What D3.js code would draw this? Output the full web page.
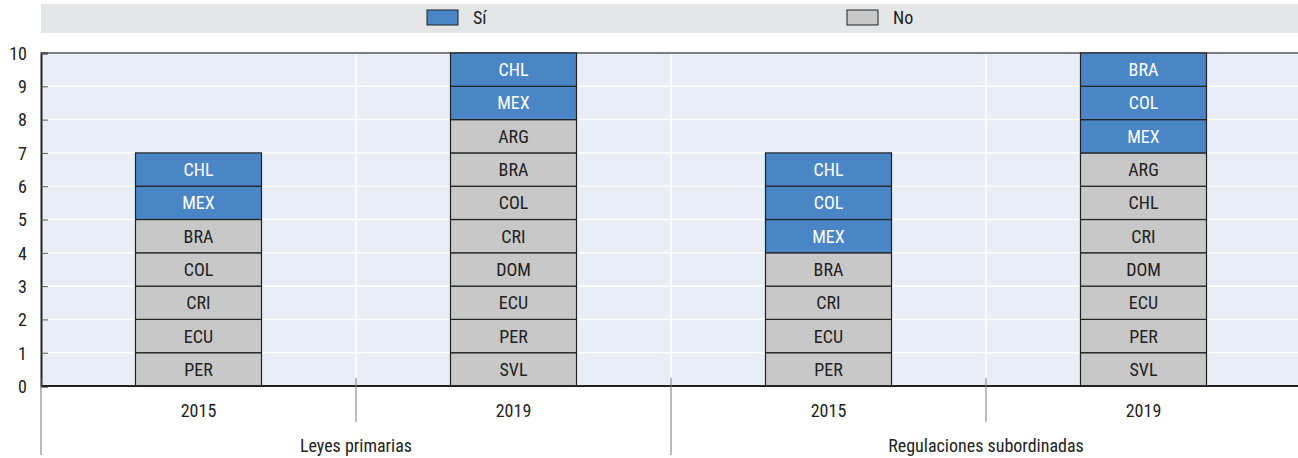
<!DOCTYPE html>
<html>
<head>
<meta charset="utf-8">
<script src="https://cdn.jsdelivr.net/npm/d3@7"></script>
<style>
  body { margin: 0; background: #fff; }
  svg text { font-family: "Liberation Sans Narrow", "Arial Narrow", "Roboto Condensed", sans-serif; font-size: 18px; fill: #222; }
</style>
</head>
<body>
<div id="chart"></div>
<script>
const W = 1298, H = 458;
const m = { left: 41, right: -3, top: 53, bottom: 72 };

const groups = ["Leyes primarias", "Regulaciones subordinadas"];
const years = ["2015", "2019"];
const columns = ["Leyes primarias|2015", "Leyes primarias|2019", "Regulaciones subordinadas|2015", "Regulaciones subordinadas|2019"];

// countries stacked bottom to top
const noLeyes2015 = ["PER", "ECU", "CRI", "COL", "BRA"];
const siLeyes2015 = ["MEX", "CHL"];
const noLeyes2019 = ["SVL", "PER", "ECU", "DOM", "CRI", "COL", "BRA", "ARG"];
const siLeyes2019 = ["MEX", "CHL"];
const noReg2015 = ["PER", "ECU", "CRI", "BRA"];
const siReg2015 = ["MEX", "COL", "CHL"];
const noReg2019 = ["SVL", "PER", "ECU", "DOM", "CRI", "CHL", "ARG"];
const siReg2019 = ["MEX", "COL", "BRA"];

const yTicks = [0, 1, 2, 3, 4, 5, 6, 7, 8, 9, 10];
const legendItems = ["Sí", "No"];
const color = d3.scaleOrdinal().domain(legendItems).range(["#4a86c6", "#c8c8c8"]);

const stacks = [
  [noLeyes2015, siLeyes2015],
  [noLeyes2019, siLeyes2019],
  [noReg2015, siReg2015],
  [noReg2019, siReg2019]
];

const cells = [];
stacks.forEach((s, i) => {
  let k = 0;
  s[0].forEach(c => { cells.push({ col: columns[i], name: c, type: "No", y0: k, y1: k + 1 }); k++; });
  s[1].forEach(c => { cells.push({ col: columns[i], name: c, type: "Sí", y0: k, y1: k + 1 }); k++; });
});

const svg = d3.select("#chart").append("svg").attr("width", W).attr("height", H);

const x = d3.scaleBand().domain(columns).range([m.left, W - m.right]);
const y = d3.scaleLinear().domain([0, 10]).range([H - m.bottom, m.top]);
const barW = x.bandwidth() * 0.4;

// legend band
svg.append("rect").attr("x", m.left).attr("y", 4).attr("width", W - m.left).attr("height", 29).attr("fill", "#e5e6e8");
const legendX = d3.scalePoint().domain(legendItems).range([427, 847]);
const lg = svg.selectAll(".legend").data(legendItems).enter().append("g")
  .attr("transform", d => "translate(" + legendX(d) + ",10)");
lg.append("rect").attr("width", 31).attr("height", 15).attr("fill", d => color(d)).attr("stroke", "#222").attr("stroke-width", 1);
lg.append("text").attr("x", 46).attr("y", 14).text(d => d);

// plot bg
svg.append("rect").attr("x", m.left).attr("y", y(10)).attr("width", W - m.left).attr("height", y(0) - y(10)).attr("fill", "#e9edf6");

// gridlines
svg.append("g").selectAll("line").data(yTicks.slice(1, -1)).enter().append("line")
  .attr("x1", m.left).attr("x2", W).attr("y1", d => y(d)).attr("y2", d => y(d))
  .attr("stroke", "#fff").attr("stroke-width", 1.5);
svg.append("g").selectAll("line").data(columns.slice(1)).enter().append("line")
  .attr("x1", d => x(d)).attr("x2", d => x(d)).attr("y1", y(10)).attr("y2", y(0))
  .attr("stroke", "#fff").attr("stroke-width", 1.5);

// top border
svg.append("line").attr("x1", m.left).attr("x2", W).attr("y1", y(10)).attr("y2", y(10)).attr("stroke", "#555").attr("stroke-width", 1.5);

// bars
const cell = svg.append("g").selectAll("g").data(cells).enter().append("g");
cell.append("rect")
  .attr("x", d => x(d.col) + (x.bandwidth() - barW) / 2)
  .attr("y", d => y(d.y1))
  .attr("width", barW)
  .attr("height", d => y(d.y0) - y(d.y1))
  .attr("fill", d => color(d.type))
  .attr("stroke", "#222").attr("stroke-width", 1.2);
cell.append("text")
  .attr("x", d => x(d.col) + x.bandwidth() / 2)
  .attr("y", d => (y(d.y0) + y(d.y1)) / 2 + 6.5)
  .attr("text-anchor", "middle")
  .style("fill", d => d.type === "Sí" ? "#fff" : "#222")
  .text(d => d.name);

// y axis
const yAxis = d3.axisLeft(y).tickValues(yTicks).tickSize(-7).tickPadding(14).tickFormat(d3.format("d"));
const ya = svg.append("g").attr("transform", "translate(" + m.left + ",0)").call(yAxis);
ya.select(".domain").attr("stroke", "#222").attr("stroke-width", 2);
ya.selectAll(".tick line").attr("stroke", "#555");
ya.selectAll(".tick text").attr("dy", "0.35em").style("font-size", "18px");

// x baseline
svg.append("line").attr("x1", m.left).attr("x2", W).attr("y1", y(0)).attr("y2", y(0)).attr("stroke", "#222").attr("stroke-width", 2);

// x category ticks
svg.append("g").selectAll("line").data(columns).enter().append("line")
  .attr("x1", d => x(d)).attr("x2", d => x(d))
  .attr("y1", y(0) - 8)
  .attr("y2", (d, i) => i % 2 === 0 ? 455 : 422)
  .attr("stroke", "#777").attr("stroke-width", 1);

svg.append("g").selectAll("text").data(columns).enter().append("text")
  .attr("x", d => x(d) + x.bandwidth() / 2).attr("y", 417)
  .attr("text-anchor", "middle").text(d => d.split("|")[1]);

svg.append("g").selectAll("text").data(groups).enter().append("text")
  .attr("x", (d, i) => x(columns[i * 2]) + x.bandwidth())
  .attr("y", 452)
  .attr("text-anchor", "middle").text(d => d);
</script>
</body>
</html>
